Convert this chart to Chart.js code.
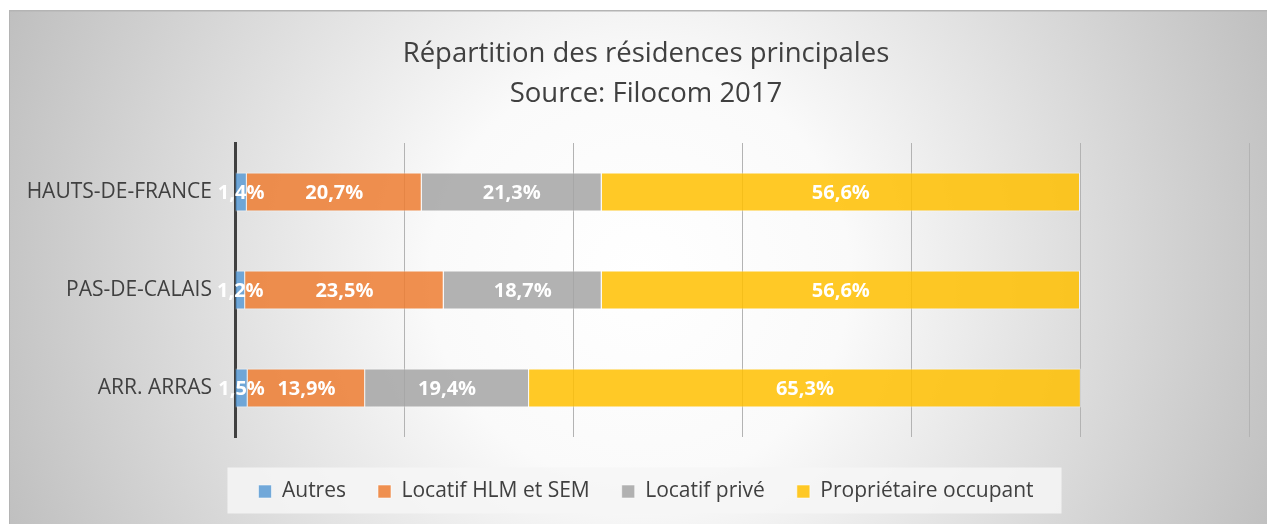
<!DOCTYPE html>
<html><head><meta charset="utf-8">
<script src="https://cdn.jsdelivr.net/npm/chart.js@4/dist/chart.umd.min.js"></script>
<style>html,body{margin:0;padding:0;background:#fff;overflow:hidden}canvas{display:block}</style>
</head><body>
<canvas id="c" width="1267" height="524"></canvas>
<script>
const categories = ['HAUTS-DE-FRANCE', 'PAS-DE-CALAIS', 'ARR. ARRAS'];
const seriesNames = ['Autres', 'Locatif HLM et SEM', 'Locatif privé', 'Propriétaire occupant'];
const autres = [1.4, 1.2, 1.5];
const locatifHLM = [20.7, 23.5, 13.9];
const locatifPrive = [21.3, 18.7, 19.4];
const proprietaire = [56.6, 56.6, 65.3];
const titleLines = ['Répartition des résidences principales', 'Source: Filocom 2017'];

const FONT = '"Open Sans", "DejaVu Sans", sans-serif';

const bgPlugin = {
  id: 'bg',
  afterLayout(chart) {
    // let the long category labels use the space left of the padded area
    if (chart.scales.y) chart.scales.y.left = 0;
  },
  beforeDraw(chart) {
    const {ctx, width, height} = chart;
    ctx.save();
    ctx.fillStyle = '#ffffff';
    ctx.fillRect(0, 0, width, height);
    const g = ctx.createRadialGradient(640, 275, 0, 640, 275, 700);
    g.addColorStop(0, '#ffffff');
    g.addColorStop(0.3, '#fafafa');
    g.addColorStop(1, '#bdbdbd');
    ctx.fillStyle = g;
    ctx.fillRect(9, 10, width - 9, height - 10);
    ctx.fillStyle = '#b4b4b4';
    ctx.fillRect(9, 10, width - 9, 1.5);
    ctx.fillRect(9, 10, 1, height - 10);
    const lg = chart.legend;
    if (lg && lg.legendHitBoxes && lg.legendHitBoxes.length) {
      const hb = lg.legendHitBoxes;
      const l = Math.min(...hb.map(h => h.left));
      const r = Math.max(...hb.map(h => h.left + h.width));
      const mid = hb[0].top + hb[0].height / 2;
      ctx.fillStyle = 'rgba(246,246,246,0.85)';
      ctx.fillRect(l - 31, mid - 24, r - l + 59, 46);
    }
    ctx.restore();
  }
};

const labelPlugin = {
  id: 'vals',
  afterDatasetsDraw(chart) {
    const ctx = chart.ctx;
    ctx.save();
    ctx.font = 'bold 20px ' + FONT;
    ctx.fillStyle = '#ffffff';
    ctx.textAlign = 'center';
    ctx.textBaseline = 'middle';
    chart.data.datasets.forEach((ds, i) => {
      const meta = chart.getDatasetMeta(i);
      meta.data.forEach((bar, j) => {
        const p = bar.getCenterPoint();
        ctx.fillText(ds.data[j].toFixed(1).replace('.', ',') + '%', p.x, p.y + 1);
      });
    });
    ctx.restore();
  }
};

function build() {
  new Chart(document.getElementById('c'), {
    type: 'bar',
    data: {
      labels: categories,
      datasets: [
        {label: seriesNames[0], data: autres, backgroundColor: 'rgba(91,155,213,0.85)'},
        {label: seriesNames[1], data: locatifHLM, backgroundColor: 'rgba(237,125,49,0.85)'},
        {label: seriesNames[2], data: locatifPrive, backgroundColor: 'rgba(165,165,165,0.85)'},
        {label: seriesNames[3], data: proprietaire, backgroundColor: 'rgba(255,192,0,0.85)'}
      ].map(d => Object.assign(d, {borderColor: 'rgba(255,255,255,0.55)', borderWidth: 1, barPercentage: 0.4, categoryPercentage: 1}))
    },
    options: {
      responsive: false,
      animation: false,
      indexAxis: 'y',
      layout: {padding: {left: 43, right: 18, top: 0, bottom: 12}},
      plugins: {
        title: {
          display: true, text: titleLines, color: '#404040',
          font: {family: FONT, size: 27.5, weight: 'normal', lineHeight: 40 / 27.5},
          padding: {top: 34, bottom: 29}
        },
        legend: {
          position: 'bottom',
          labels: {color: '#404040', font: {family: FONT, size: 21}, boxWidth: 13, boxHeight: 13, padding: 32}
        },
        tooltip: {enabled: false}
      },
      scales: {
        x: {
          stacked: true, min: 0, max: 120,
          ticks: {display: false, stepSize: 20},
          grid: {color: '#b3b3b3', lineWidth: 1, drawTicks: false},
          border: {display: false},
          afterFit(s) { s.height = 12; }
        },
        y: {
          stacked: true,
          ticks: {color: '#404040', font: {family: FONT, size: 21}, padding: 23},
          grid: {display: false, drawTicks: false},
          border: {color: '#404040', width: 3},
          afterFit(s) { s.width = 192; }
        }
      }
    },
    plugins: [bgPlugin, labelPlugin]
  });
}

if (document.fonts && document.fonts.load) {
  Promise.all([
    document.fonts.load('20px "Open Sans"'),
    document.fonts.load('bold 20px "Open Sans"'),
    document.fonts.load('25px "Open Sans"')
  ]).then(build, build);
} else { build(); }
</script>
</body></html>
